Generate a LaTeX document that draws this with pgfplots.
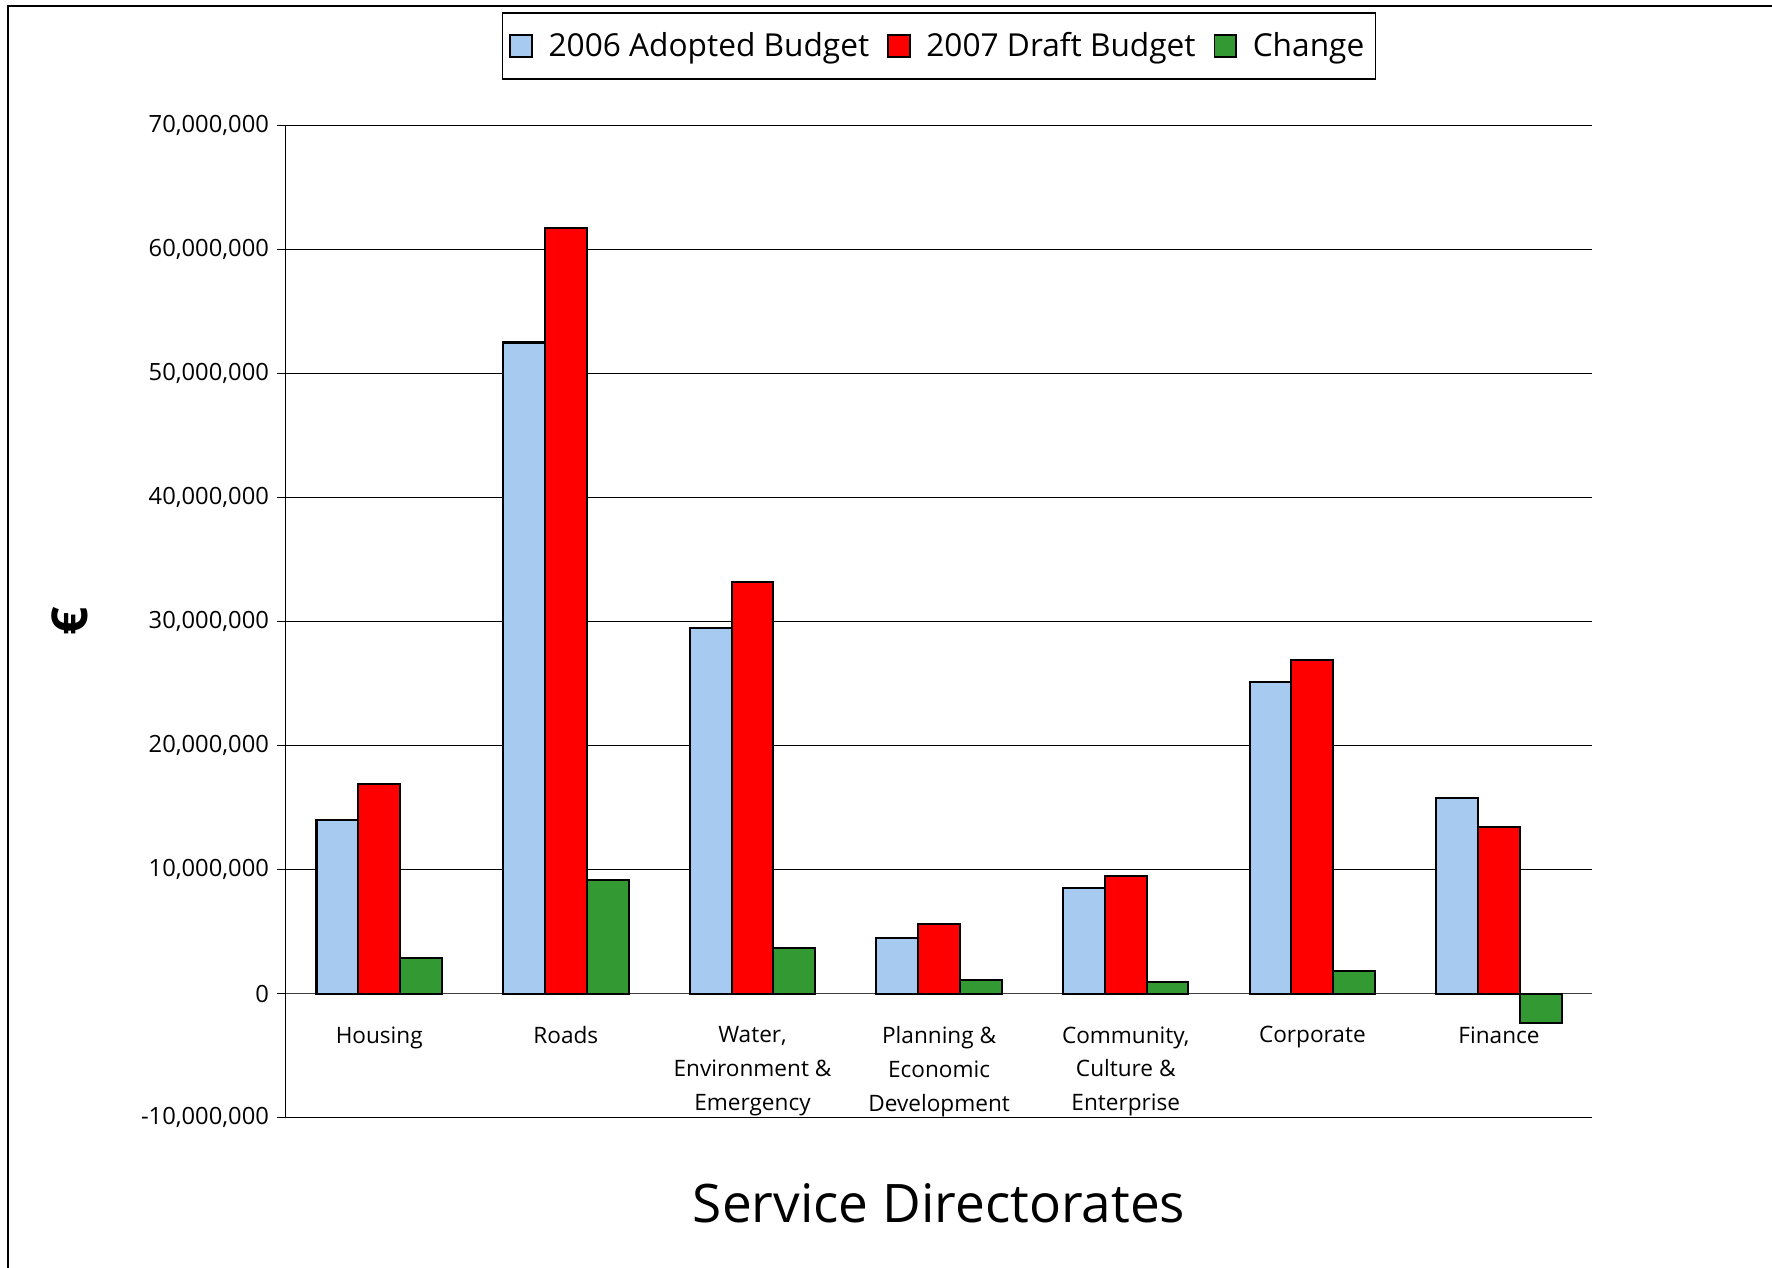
\documentclass[border=0pt]{standalone}
\usepackage{pgfplots}
\pgfplotsset{compat=1.18}
\usepackage{fontspec}
\setmainfont{Open Sans}
\definecolor{adopted}{RGB}{166,202,240}
\definecolor{draft}{RGB}{255,0,0}
\definecolor{change}{RGB}{51,153,51}
\begin{document}
\begin{tikzpicture}
\useasboundingbox (0,0) rectangle (784pt,561pt);
% outer chart frame (only left and top edges are visible)
\draw[line width=0.8pt] (3.5pt,0) -- (3.5pt,558.5pt) -- (784pt,558.5pt);
\begin{axis}[
  at={(126.5pt,66.5pt)}, anchor=south west,
  width=578pt, height=439pt, scale only axis,
  ybar=0pt, bar width=18.5pt,
  xmin=-0.5, xmax=6.5,
  ymin=-10000000, ymax=70000000,
  axis x line=middle, axis y line=left,
  axis line style={-},
  x axis line style={-, draw=black!75},
  y axis line style={-, draw=black},
  hide obscured x ticks=false, hide obscured y ticks=false,
  xtick={0,...,6},
  xticklabels={Housing, Roads, {Water,\\Environment \&\\Emergency}, {Planning \&\\Economic\\Development}, {Community,\\Culture \&\\Enterprise}, Corporate, Finance},
  x tick style={draw=none},
  extra x ticks={-0.5,0.5,...,6.5},
  extra x tick labels={},
  extra x tick style={tick style={draw=black!75, line width=0.5pt}, major tick length=4pt, tick align=outside, grid=none},
  xticklabel style={align=center, font=\fontsize{10}{15}\selectfont, yshift=-9pt},
  ytick={-10000000,0,...,70000000},
  scaled y ticks=false,
  yticklabel style={font=\fontsize{10.5}{12}\selectfont, /pgf/number format/.cd, fixed, 1000 sep={,}, assume math mode=true},
  y tick style={draw=black, line width=0.5pt},
  major tick length=4pt,
  ytick align=outside,
  ymajorgrids=true,
  grid style={draw=black, line width=0.5pt},
  xlabel={Service Directorates},
  xlabel style={at={(axis description cs:0.5,0)}, anchor=center, yshift=-38pt, font=\fontsize{23.5}{28}\selectfont},
  ylabel={\textbf{€}},
  ylabel style={at={(axis description cs:-0.1652,0.5)}, anchor=center, font=\fontsize{22}{24}\selectfont},
  legend style={at={(0.5,1)}, anchor=north, yshift=50pt, draw=black, line width=0.6pt,
    font=\fontsize{14}{16}\selectfont, legend columns=-1,
    /tikz/every even column/.append style={column sep=6pt},
    /tikz/every odd column/.append style={column sep=5pt},
    inner xsep=3pt, inner ysep=6.5pt},
  legend image code/.code={\draw[#1, line width=0.8pt] (0pt,-4.75pt) rectangle (9.5pt,4.75pt);},
]
\addplot[fill=adopted, draw=black, line width=0.9pt] coordinates {
  (0,14000000) (1,52500000) (2,29500000) (3,4500000) (4,8550000) (5,25100000) (6,15750000)};
\addplot[fill=draft, draw=black, line width=0.9pt] coordinates {
  (0,16900000) (1,61700000) (2,33200000) (3,5600000) (4,9500000) (5,26900000) (6,13400000)};
\addplot[fill=change, draw=black, line width=0.9pt] coordinates {
  (0,2900000) (1,9200000) (2,3700000) (3,1100000) (4,950000) (5,1800000) (6,-2350000)};
\legend{2006 Adopted Budget, 2007 Draft Budget, Change}
\end{axis}
\end{tikzpicture}
\end{document}
